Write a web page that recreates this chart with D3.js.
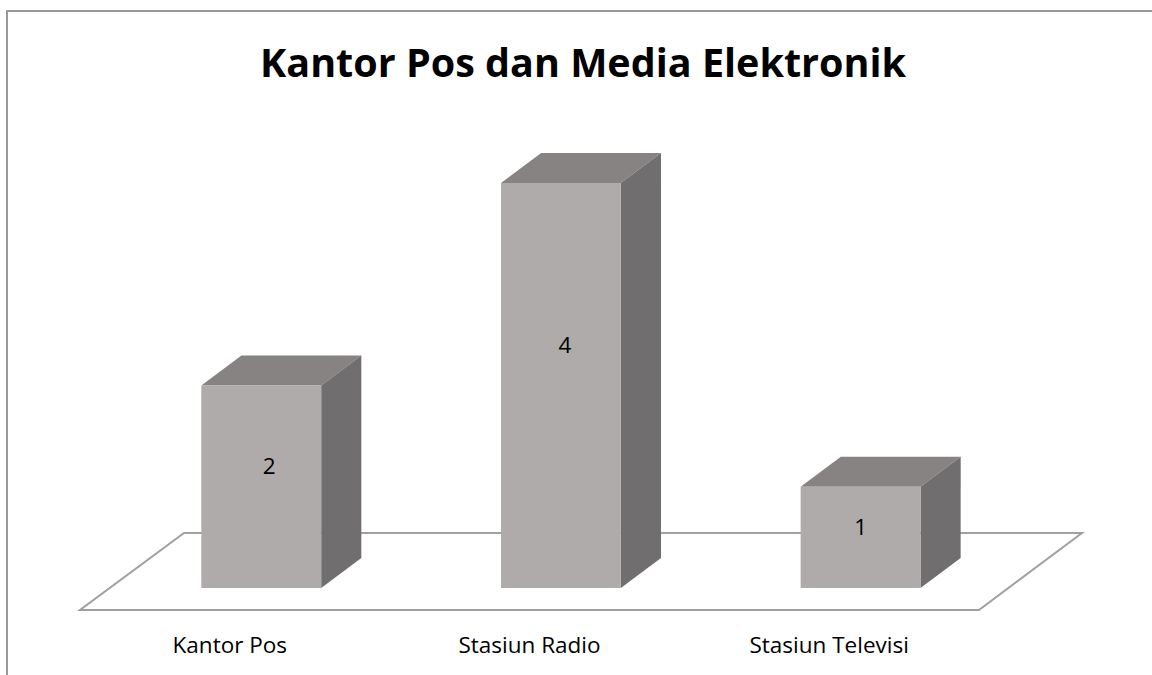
<!DOCTYPE html>
<html>
<head>
<meta charset="utf-8">
<script src="https://cdn.jsdelivr.net/npm/d3@7"></script>
<style>
  html, body { margin: 0; padding: 0; background: #fff; }
  svg { display: block; }
</style>
</head>
<body>
<svg id="chart" width="1152" height="675"></svg>
<script>
const title = "Kantor Pos dan Media Elektronik";
const categories = ["Kantor Pos", "Stasiun Radio", "Stasiun Televisi"];
const values = [2, 4, 1];
const yDomain = [0, 4];

const svg = d3.select("#chart");
const W = 1152, H = 675;

// chart frame (extends past right/bottom edges)
svg.append("rect")
  .attr("x", 7).attr("y", 11)
  .attr("width", W + 20).attr("height", H + 20)
  .attr("fill", "#fff")
  .attr("stroke", "#999").attr("stroke-width", 2);

// floor geometry
const floorFrontY = 610, floorBackY = 533;
const floorDX = 103; // horizontal shift from front to back edge
const floorFrontX0 = 80, floorFrontX1 = 979;

const x = d3.scaleBand()
  .domain(categories)
  .range([floorFrontX0, floorFrontX1])
  .paddingInner(0.6)
  .paddingOuter(0.3);

// bars sit partway into the floor depth
const frontFrac = (floorFrontY - 588) / (floorFrontY - floorBackY);
const barDepthFrac = 30 / (floorFrontY - floorBackY);
const baseY = floorFrontY - frontFrac * (floorFrontY - floorBackY);
const baseShiftX = frontFrac * floorDX + 2;
const depthX = barDepthFrac * floorDX;
const depthY = barDepthFrac * (floorFrontY - floorBackY);

const y = d3.scaleLinear().domain(yDomain).range([baseY, 183]);

// floor
svg.append("path")
  .attr("d", d3.line()([
    [floorFrontX0, floorFrontY],
    [floorFrontX1, floorFrontY],
    [floorFrontX1 + floorDX, floorBackY],
    [floorFrontX0 + floorDX + 1, floorBackY]
  ]) + "Z")
  .attr("fill", "#fff")
  .attr("stroke", "#a0a0a0")
  .attr("stroke-width", 2);

const bars = svg.append("g").selectAll("g.bar")
  .data(categories.map((c, i) => ({ c, v: values[i] })))
  .join("g").attr("class", "bar");

const fx0 = d => x(d.c) + baseShiftX;
const fx1 = d => x(d.c) + baseShiftX + x.bandwidth();

// top face
bars.append("path")
  .attr("d", d => d3.line()([
    [fx0(d), y(d.v)],
    [fx1(d), y(d.v)],
    [fx1(d) + depthX, y(d.v) - depthY],
    [fx0(d) + depthX, y(d.v) - depthY]
  ]) + "Z")
  .attr("fill", "#868382");

// side face
bars.append("path")
  .attr("d", d => d3.line()([
    [fx1(d), y(d.v)],
    [fx1(d) + depthX, y(d.v) - depthY],
    [fx1(d) + depthX, y(0) - depthY],
    [fx1(d), y(0)]
  ]) + "Z")
  .attr("fill", "#706e6e");

// front face
bars.append("rect")
  .attr("x", fx0)
  .attr("y", d => y(d.v))
  .attr("width", x.bandwidth())
  .attr("height", d => y(0) - y(d.v))
  .attr("fill", "#aeabaa");

// value labels
bars.append("text")
  .attr("x", (d, i) => fx0(d) + x.bandwidth() / 2 + (2 - i) * 4)
  .attr("y", d => y(0) - 0.6 * (y(0) - y(d.v)))
  .attr("dy", "0.35em")
  .attr("text-anchor", "middle")
  .attr("font-family", "'Open Sans', sans-serif")
  .attr("font-size", 22.5)
  .attr("fill", "#000")
  .text(d => d.v);

// category labels
svg.append("g").selectAll("text")
  .data(categories)
  .join("text")
  .attr("x", d => x(d) + x.bandwidth() / 2)
  .attr("y", 653)
  .attr("text-anchor", "middle")
  .attr("font-family", "'Open Sans', sans-serif")
  .attr("font-size", 22.5)
  .attr("fill", "#000")
  .text(d => d);

// title
svg.append("text")
  .attr("x", 583)
  .attr("y", 77)
  .attr("text-anchor", "middle")
  .attr("font-family", "'Open Sans', sans-serif")
  .attr("font-weight", "bold")
  .attr("font-size", 39.5)
  .attr("fill", "#000")
  .text(title);
</script>
</body>
</html>
